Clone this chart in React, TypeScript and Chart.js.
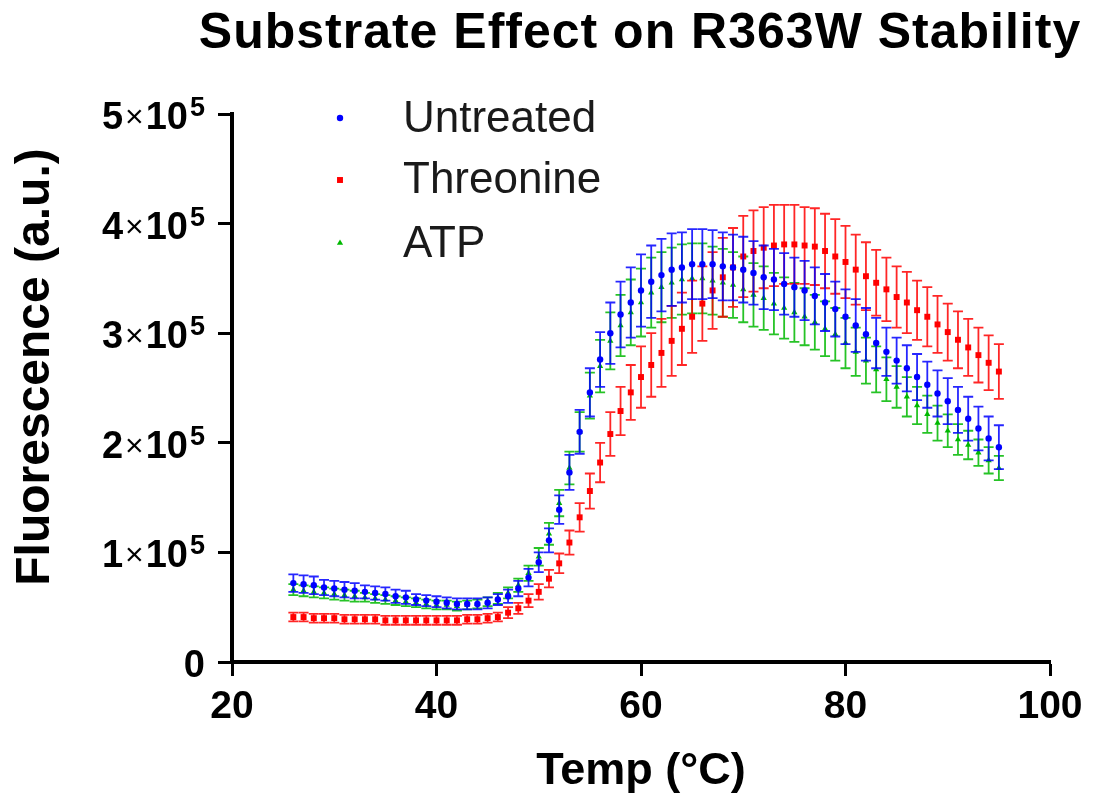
import React, { useEffect, useRef } from 'react';
import { Chart, registerables } from 'chart.js';

Chart.register(...registerables);

// Temperature (°C)
const temps = [26, 27, 28, 29, 30, 31, 32, 33, 34, 35, 36, 37, 38, 39, 40, 41, 42, 43, 44, 45,
  46, 47, 48, 49, 50, 51, 52, 53, 54, 55, 56, 57, 58, 59, 60, 61, 62, 63, 64, 65,
  66, 67, 68, 69, 70, 71, 72, 73, 74, 75, 76, 77, 78, 79, 80, 81, 82, 83, 84, 85,
  86, 87, 88, 89, 90, 91, 92, 93, 94, 95];

// Fluorescence means (×10^3 a.u.)
const untreated = [72, 71, 70, 68, 67, 66, 65, 64, 63, 62, 60, 59, 57, 56, 55, 54, 53, 53, 53, 54,
  57, 60, 67, 77, 91, 111, 139, 173, 210, 246, 276, 300, 317, 328, 339, 347, 353, 358, 360, 363,
  363, 363, 361, 360, 358, 355, 351, 349, 345, 342, 339, 334, 328, 322, 315, 307, 299, 291, 283, 275,
  268, 260, 253, 245, 238, 230, 222, 213, 204, 196];
const threonine = [41, 41, 40, 40, 40, 39, 39, 39, 39, 38, 38, 38, 38, 38, 38, 38, 38, 39, 39, 40,
  41, 45, 49, 56, 64, 76, 90, 109, 132, 156, 182, 208, 229, 246, 260, 271, 282, 293, 304, 315,
  327, 339, 351, 360, 370, 375, 378, 380, 381, 381, 380, 379, 375, 370, 365, 358, 352, 346, 340, 333,
  328, 321, 315, 308, 301, 294, 287, 280, 273, 265];
const atp = [66, 65, 64, 63, 62, 61, 60, 59, 58, 57, 56, 55, 54, 53, 52, 52, 51, 52, 53, 55,
  58, 63, 70, 81, 96, 117, 145, 177, 210, 243, 270, 293, 307, 319, 328, 337, 342, 346, 349, 350,
  350, 348, 346, 344, 340, 335, 332, 327, 323, 319, 315, 310, 304, 299, 291, 283, 275, 267, 258, 251,
  242, 234, 226, 218, 211, 203, 198, 191, 184, 177];

// Error (± ×10^3 a.u.)
const untreatedErr = [8, 8, 8, 7, 7, 7, 7, 6, 6, 6, 6, 6, 5, 5, 5, 5, 5, 5, 5, 5,
  5, 6, 7, 8, 9, 11, 13, 16, 20, 22, 25, 28, 30, 32, 33, 33, 33, 33, 32, 32,
  32, 31, 31, 30, 30, 29, 29, 28, 28, 27, 27, 26, 26, 25, 25, 24, 24, 23, 22, 21,
  21, 21, 21, 21, 21, 21, 20, 20, 20, 20];
const threonineErr = [4, 4, 4, 4, 4, 4, 4, 4, 4, 4, 4, 4, 4, 4, 4, 4, 4, 4, 4, 4,
  4, 5, 5, 6, 7, 8, 9, 11, 13, 16, 18, 20, 22, 25, 28, 29, 31, 32, 33, 33,
  34, 35, 36, 36, 37, 37, 37, 37, 36, 36, 35, 35, 34, 34, 33, 32, 31, 30, 29, 28,
  28, 27, 27, 26, 26, 26, 26, 25, 25, 25];
const atpErr = [5, 5, 5, 5, 5, 5, 5, 4, 4, 4, 4, 4, 4, 4, 4, 4, 4, 4, 4, 4,
  5, 5, 6, 7, 8, 10, 12, 15, 18, 21, 24, 26, 28, 30, 31, 32, 32, 32, 32, 32,
  32, 31, 31, 30, 30, 29, 29, 28, 28, 27, 26, 25, 25, 24, 23, 22, 21, 21, 20, 19,
  18, 17, 17, 16, 15, 14, 13, 12, 12, 11];

const seriesNames = ['Untreated', 'Threonine', 'ATP'];
const seriesColors = ['#0000ff', '#ff0000', '#00b800'];
const errColors = ['rgba(0,0,255,0.85)', 'rgba(255,0,0,0.85)', 'rgba(0,184,0,0.85)'];
const seriesStyles = ['circle', 'rect', 'triangle'];
const seriesRadius = [3.2, 4.2, 3.6];

const xTickValues = [20, 40, 60, 80, 100];
const yTickValues = [0, 100000, 200000, 300000, 400000, 500000];
// y tick labels: mantissa × 10^exponent
const yTickMantissas = ['0', '1', '2', '3', '4', '5'];
const yTickExponents = ['', '5', '5', '5', '5', '5'];

const titleText = 'Substrate Effect on R363W Stability';
const xTitle = 'Temp (°C)';
const yTitle = 'Fluorescence (a.u.)';

const FONT = '"Liberation Sans", Arial, Helvetica, sans-serif';

const means = [untreated, threonine, atp];
const errs = [untreatedErr, threonineErr, atpErr];

const errorBarPlugin = {
  id: 'errorBars',
  beforeDatasetDraw(chart: any, args: any) {
    const i = args.index;
    const ctx = chart.ctx;
    const xs = chart.scales.x;
    const ys = chart.scales.y;
    const m = means[i];
    const e = errs[i];
    ctx.save();
    ctx.strokeStyle = errColors[i];
    ctx.lineWidth = 1.8;
    const cap = 5;
    for (let k = 0; k < temps.length; k++) {
      const px = xs.getPixelForValue(temps[k]);
      const top = ys.getPixelForValue((m[k] + e[k]) * 1000);
      const bot = ys.getPixelForValue((m[k] - e[k]) * 1000);
      ctx.beginPath();
      ctx.moveTo(px, top);
      ctx.lineTo(px, bot);
      ctx.moveTo(px - cap, top);
      ctx.lineTo(px + cap, top);
      ctx.moveTo(px - cap, bot);
      ctx.lineTo(px + cap, bot);
      ctx.stroke();
    }
    ctx.restore();
  },
};

function drawMarker(ctx: CanvasRenderingContext2D, style: string, x: number, y: number, r: number, color: string) {
  ctx.fillStyle = color;
  ctx.beginPath();
  if (style === 'circle') {
    ctx.arc(x, y, r, 0, Math.PI * 2);
  } else if (style === 'rect') {
    const s = r * Math.SQRT1_2;
    ctx.rect(x - s, y - s, 2 * s, 2 * s);
  } else {
    ctx.moveTo(x, y - r);
    ctx.lineTo(x + r * 0.866, y + r * 0.5);
    ctx.lineTo(x - r * 0.866, y + r * 0.5);
    ctx.closePath();
  }
  ctx.fill();
}

const textPlugin = {
  id: 'texts',
  afterDraw(chart: any) {
    const ctx: CanvasRenderingContext2D = chart.ctx;
    const area = chart.chartArea;
    const ys = chart.scales.y;
    ctx.save();
    ctx.fillStyle = '#000';
    // main title
    ctx.font = `bold 50px ${FONT}`;
    (ctx as any).letterSpacing = '1px';
    ctx.textAlign = 'center';
    ctx.textBaseline = 'alphabetic';
    ctx.fillText(titleText, 640, 48);
    (ctx as any).letterSpacing = '0px';
    // x title
    ctx.font = `bold 45px ${FONT}`;
    ctx.fillText(xTitle, (area.left + area.right) / 2, 784);
    // y title
    ctx.save();
    ctx.translate(49, 367);
    ctx.rotate(-Math.PI / 2);
    ctx.font = `bold 48px ${FONT}`;
    ctx.fillText(yTitle, 0, 0);
    ctx.restore();

    // y tick labels with superscript exponent
    const rightEdge = area.left - 27;
    ctx.textAlign = 'left';
    for (let i = 0; i < yTickValues.length; i++) {
      const y = ys.getPixelForValue(yTickValues[i]);
      const base = y + 15;
      const mant = yTickMantissas[i];
      const ex = yTickExponents[i];
      const digitFont = `bold 38px ${FONT}`;
      const timesFont = `32px ${FONT}`;
      const supFont = `bold 27px ${FONT}`;
      if (!ex) {
        ctx.font = digitFont;
        const w = ctx.measureText(mant).width;
        ctx.fillText(mant, rightEdge - w, base);
        continue;
      }
      ctx.font = supFont;
      const wSup = ctx.measureText(ex).width;
      ctx.font = digitFont;
      const wTen = ctx.measureText('10').width;
      const wMant = ctx.measureText(mant).width;
      ctx.font = timesFont;
      const wTimes = ctx.measureText('×').width;
      const gap = 2;
      let x = rightEdge - wSup - gap - wTen - gap - wTimes - gap - wMant;
      ctx.font = digitFont;
      ctx.fillText(mant, x, base);
      x += wMant + gap;
      ctx.font = timesFont;
      ctx.fillText('×', x, base - 2);
      x += wTimes + gap;
      ctx.font = digitFont;
      ctx.fillText('10', x, base);
      x += wTen + gap;
      ctx.font = supFont;
      ctx.fillText(ex, x, base - 13);
    }

    // legend
    const rowsMarkerY = [118, 180, 243];
    const rowsTextY = [132, 193, 257];
    ctx.font = `44px ${FONT}`;
    ctx.textAlign = 'left';
    for (let i = 0; i < seriesNames.length; i++) {
      drawMarker(ctx, seriesStyles[i], 340, rowsMarkerY[i], seriesRadius[i], seriesColors[i]);
      ctx.fillStyle = '#1a1a1a';
      ctx.fillText(seriesNames[i], 403, rowsTextY[i]);
    }
    ctx.restore();
  },
};

export default function App() {
  const ref = useRef<HTMLCanvasElement | null>(null);
  useEffect(() => {
    document.body.style.margin = '0';
    const canvas = ref.current;
    if (!canvas) return;
    const datasets = seriesNames.map((name, i) => ({
      label: name,
      data: temps.map((t, k) => ({ x: t, y: means[i][k] * 1000 })),
      pointStyle: seriesStyles[i] as any,
      pointRadius: seriesRadius[i],
      pointHoverRadius: seriesRadius[i],
      backgroundColor: seriesColors[i],
      borderColor: seriesColors[i],
      borderWidth: 0,
      showLine: false,
    }));
    const chart = new Chart(canvas, {
      type: 'scatter',
      data: { datasets },
      options: {
        responsive: false,
        animation: false,
        events: [],
        layout: { padding: { top: 114, right: 44, left: 0, bottom: 0 } },
        plugins: {
          legend: { display: false },
          title: { display: false },
          tooltip: { enabled: false },
        },
        scales: {
          x: {
            type: 'linear',
            min: 20,
            max: 100,
            afterBuildTicks: (scale: any) => {
              scale.ticks = xTickValues.map((v) => ({ value: v }));
            },
            afterFit: (scale: any) => {
              scale.height = 140;
            },
            grid: {
              drawOnChartArea: false,
              drawTicks: true,
              tickLength: 14,
              tickWidth: 3,
              color: '#000',
            },
            border: { display: true, width: 4, color: '#000' },
            ticks: {
              padding: 8,
              color: '#000',
              maxRotation: 0,
              font: { family: FONT, size: 39, weight: 'bold' },
            },
          },
          y: {
            type: 'linear',
            min: 0,
            max: 500000,
            afterBuildTicks: (scale: any) => {
              scale.ticks = yTickValues.map((v) => ({ value: v }));
            },
            afterFit: (scale: any) => {
              scale.width = 232;
            },
            grid: {
              drawOnChartArea: false,
              drawTicks: true,
              tickLength: 14,
              tickWidth: 3,
              color: '#000',
            },
            border: { display: true, width: 4, color: '#000' },
            ticks: {
              display: false,
            },
          },
        },
      },
      plugins: [errorBarPlugin, textPlugin],
    });
    return () => chart.destroy();
  }, []);
  return (
    <div style={{ width: 1094, height: 802, background: '#fff' }}>
      <canvas ref={ref} width={1094} height={802} style={{ display: 'block' }} />
    </div>
  );
}
